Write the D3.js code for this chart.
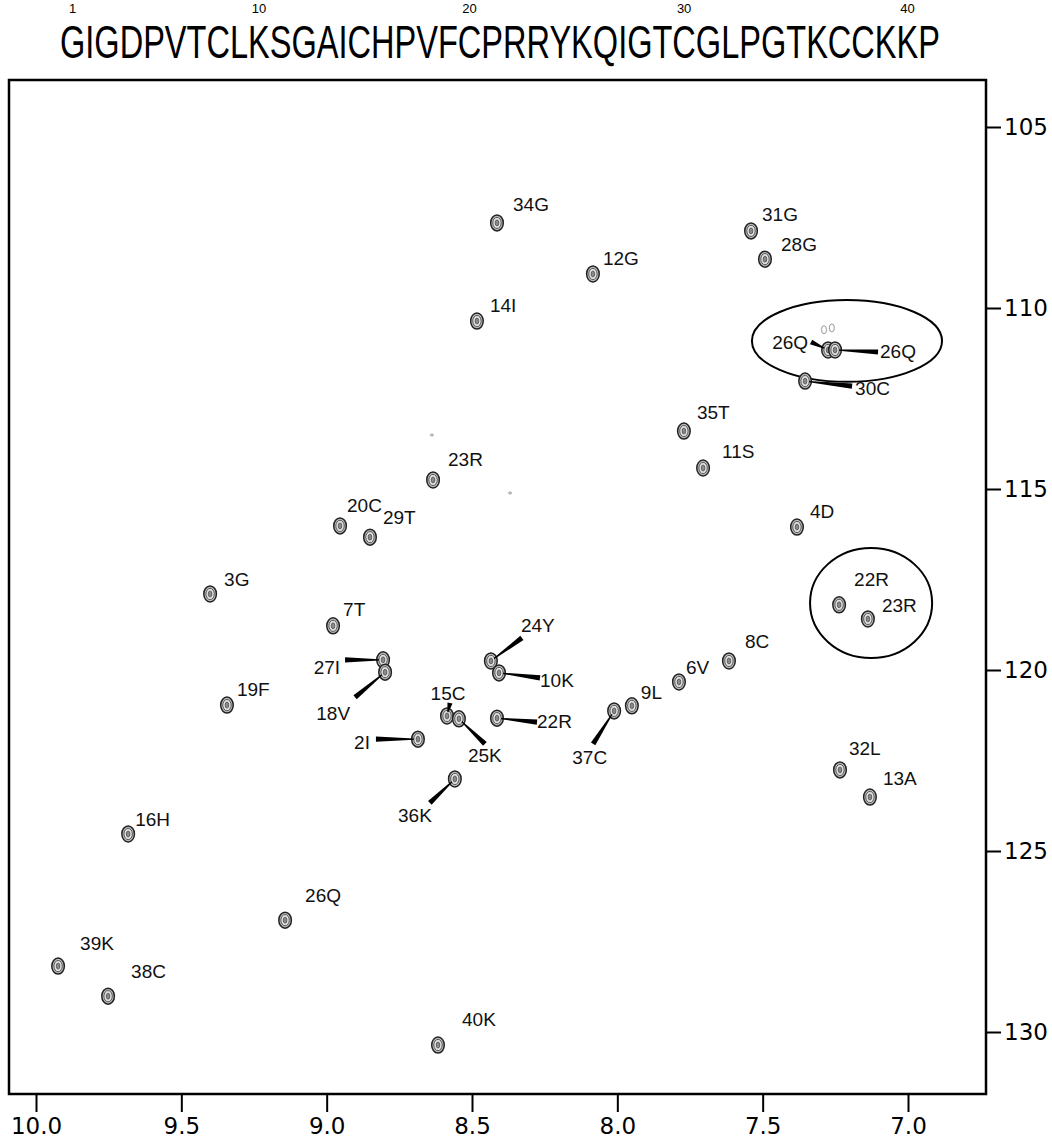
<!DOCTYPE html>
<html>
<head>
<meta charset="utf-8">
<script src="https://cdn.jsdelivr.net/npm/d3@7"></script>
<style>
  body { margin: 0; background: #fff; }
  .tick text { font-family: "DejaVu Sans", sans-serif; fill: #000; }
</style>
</head>
<body>
<div id="chart"></div>
<script>
// Data
// ===========================
var sequence = "GIGDPVTCLKSGAICHPVFCPRRYKQIGTCGLPGTKCCKKP";
var seqMarks = [1, 10, 20, 30, 40];

var xTicks = [10.0, 9.5, 9.0, 8.5, 8.0, 7.5, 7.0];
var yTicks = [105, 110, 115, 120, 125, 130];

// assignments, 1H and 15N shifts (ppm)
var peakNames = ["34G", "12G", "31G", "28G", "14I", "26Q", "26Q", "30C", "35T", "11S",
  "23R", "20C", "29T", "4D", "3G", "22R", "23R", "7T", "24Y", "27I",
  "18V", "10K", "15C", "25K", "22R", "2I", "36K", "37C", "9L", "6V",
  "8C", "32L", "13A", "19F", "16H", "26Q", "39K", "38C", "40K"];
var peakH = [8.414, 8.084, 7.540, 7.492, 8.483, 7.275, 7.251, 7.354, 7.771, 7.705,
  8.634, 8.954, 8.851, 7.382, 9.401, 7.237, 7.138, 8.978, 8.435, 8.806,
  8.799, 8.407, 8.586, 8.545, 8.414, 8.686, 8.559, 8.011, 7.950, 7.788,
  7.616, 7.234, 7.131, 9.343, 9.683, 9.143, 9.924, 9.752, 8.617];
var peakN = [107.65, 109.06, 107.87, 108.65, 110.36, 111.16, 111.16, 112.02, 113.40, 114.42,
  114.75, 116.02, 116.33, 116.05, 117.90, 118.20, 118.59, 118.78, 119.75, 119.72,
  120.06, 120.08, 121.27, 121.35, 121.33, 121.91, 123.01, 121.13, 120.99, 120.33,
  119.75, 122.76, 123.51, 120.97, 124.53, 126.91, 128.18, 129.01, 130.36];

// faint extra contours (next to the 26Q doublet, plus two specks)
var faintH = [7.289, 7.262, 8.638, 8.369];
var faintN = [110.60, 110.55, 113.51, 115.11];

// circled regions: centre and half-widths, ppm
var circH = [7.210, 7.127];
var circN = [110.91, 118.15];
var circRH = [0.327, 0.21];
var circRN = [1.13, 1.52];

// Layout of labels (pixel offsets from the peak): dx, dy, anchor, leader start
var labelLayout = [
  [16, -12, "start"], [10, -9, "start"], [11, -10, "start"], [16, -8, "start"], [13, -9, "start"],
  [-20, -1, "end", -17, -8], [45, 8, "start", 43, 2], [50, 14, "start", 47, 5],
  [13, -12, "start"], [19, -10, "start"],
  [15, -14, "start"], [7, -14, "start"], [13, -13, "start"], [13, -9, "start"], [14, -8, "start"],
  [15, -19, "start"], [14, -7, "start"], [10, -10, "start"],
  [30, -29, "start", 31, -23], [-43, 14, "end", -38, 0],
  [-35, 48, "end", -30, 25], [41, 14, "start", 41, 5], [1, -16, "middle", 3, -13],
  [9, 43, "start", 26, 25], [40, 10, "start", 40, 4], [-48, 10, "end", -42, 0],
  [-23, 43, "end", -25, 24], [-7, 53, "end", -21, 33],
  [9, -7, "start"], [7, -8, "start"], [16, -13, "start"], [9, -15, "start"], [13, -12, "start"],
  [10, -9, "start"], [7, -8, "start"], [20, -18, "start"], [22, -16, "start"], [23, -18, "start"],
  [24, -19, "start"]
];

// Setup
// ===========================
var width = 1052;
var height = 1144;
var frame = { left: 9, right: 986, top: 80, bottom: 1094 };

var svg = d3.select("#chart")
  .append("svg")
  .attr("width", width)
  .attr("height", height);

// chemical shift axes run backwards (high ppm on the left / top)
var xScale = d3.scaleLinear().domain([10.0, 7.0]).range([36, 908]);
var yScale = d3.scaleLinear().domain([105, 130]).range([127, 1032]);

// Sequence header (narrow, tall lettering)
var seqText = svg.append("text")
  .attr("x", 60)
  .attr("y", 0)
  .attr("transform", "translate(0,58) scale(1,1.4)")
  .attr("textLength", 880)
  .attr("lengthAdjust", "spacingAndGlyphs")
  .style("font-family", "'Liberation Sans', Arial, sans-serif")
  .style("font-size", "33px")
  .text(sequence);

var seqNode = seqText.node();
seqMarks.forEach(function(n) {
  var box = seqNode.getExtentOfChar(n - 1);
  svg.append("text")
    .attr("x", box.x + box.width / 2)
    .attr("y", 13)
    .attr("text-anchor", "middle")
    .style("font-family", "'Liberation Sans', Arial, sans-serif")
    .style("font-size", "13px")
    .text(n);
});

// Axes
var xAxis = d3.axisBottom(xScale)
  .tickValues(xTicks)
  .tickFormat(d3.format(".1f"))
  .tickSize(18)
  .tickPadding(6);
var yAxis = d3.axisRight(yScale)
  .tickValues(yTicks)
  .tickSize(15)
  .tickPadding(3);

svg.append("g")
  .attr("class", "xAxis")
  .attr("transform", "translate(0," + frame.bottom + ")")
  .call(xAxis)
  .call(function(g) { g.select(".domain").remove(); })
  .call(function(g) {
    g.selectAll(".tick line").attr("stroke", "#000").attr("stroke-width", 2);
    g.selectAll(".tick text").style("font-size", "23px");
  });

svg.append("g")
  .attr("class", "yAxis")
  .attr("transform", "translate(" + frame.right + ",0)")
  .call(yAxis)
  .call(function(g) { g.select(".domain").remove(); })
  .call(function(g) {
    g.selectAll(".tick line").attr("stroke", "#000").attr("stroke-width", 2);
    g.selectAll(".tick text").style("font-size", "23px");
  });

// Plot frame
svg.append("rect")
  .attr("x", frame.left)
  .attr("y", frame.top)
  .attr("width", frame.right - frame.left)
  .attr("height", frame.bottom - frame.top)
  .attr("fill", "none")
  .attr("stroke", "#000")
  .attr("stroke-width", 2.5);

// Circled regions
svg.selectAll("ellipse.circ")
  .data(circH)
  .enter()
  .append("ellipse")
  .attr("class", "circ")
  .attr("cx", function(d) { return xScale(d); })
  .attr("cy", function(d, i) { return yScale(circN[i]); })
  .attr("rx", function(d, i) { return xScale(d - circRH[i]) - xScale(d); })
  .attr("ry", function(d, i) { return yScale(circN[i] + circRN[i]) - yScale(circN[i]); })
  .attr("fill", "none")
  .attr("stroke", "#000")
  .attr("stroke-width", 2);

// Peaks as little contour stacks
function drawPeak(g) {
  g.append("ellipse").attr("rx", 6.3).attr("ry", 8)
    .attr("fill", "#bdbdbd").attr("stroke", "#222").attr("stroke-width", 1.5);
  g.append("ellipse").attr("rx", 4.2).attr("ry", 5.6)
    .attr("fill", "#e2e2e2").attr("stroke", "#555").attr("stroke-width", 1);
  g.append("ellipse").attr("rx", 1.8).attr("ry", 3)
    .attr("fill", "#8a8a8a").attr("stroke", "#444").attr("stroke-width", 0.7);
}

var peaks = peakNames.map(function(name, i) {
  return { name: name, h: peakH[i], n: peakN[i], lay: labelLayout[i] };
});

faintH.forEach(function(h, i) {
  svg.append("ellipse")
    .attr("cx", xScale(h))
    .attr("cy", yScale(faintN[i]))
    .attr("rx", i < 2 ? 2.5 : 1.5)
    .attr("ry", i < 2 ? 4 : 1)
    .attr("fill", "none")
    .attr("stroke", "#999")
    .attr("stroke-width", 1);
});

var peakGroups = svg.selectAll("g.peak")
  .data(peaks)
  .enter()
  .append("g")
  .attr("class", "peak")
  .attr("transform", function(d) {
    return "translate(" + xScale(d.h) + "," + yScale(d.n) + ")";
  });

peakGroups.each(function() { drawPeak(d3.select(this)); });

// Leader wedges, wide at the label and pointed at the peak
peakGroups.filter(function(d) { return d.lay.length > 3; })
  .append("path")
  .attr("d", function(d) {
    var x0 = d.lay[3], y0 = d.lay[4];
    var len = Math.sqrt(x0 * x0 + y0 * y0);
    var ux = x0 / len, uy = y0 / len;
    var ex = ux * 4, ey = uy * 4;
    var nx = -uy, ny = ux;
    var w0 = 2.6, w1 = 0.6;
    return "M" + (x0 + nx * w0) + "," + (y0 + ny * w0) +
      "L" + (x0 - nx * w0) + "," + (y0 - ny * w0) +
      "L" + (ex - nx * w1) + "," + (ey - ny * w1) +
      "L" + (ex + nx * w1) + "," + (ey + ny * w1) + "Z";
  })
  .attr("fill", "#000");

peakGroups.append("text")
  .attr("x", function(d) { return d.lay[0]; })
  .attr("y", function(d) { return d.lay[1]; })
  .attr("text-anchor", function(d) { return d.lay[2]; })
  .style("font-family", "'Liberation Sans', Arial, sans-serif")
  .style("font-size", "19px")
  .style("fill", "#111")
  .text(function(d) { return d.name; });
</script>
</body>
</html>
